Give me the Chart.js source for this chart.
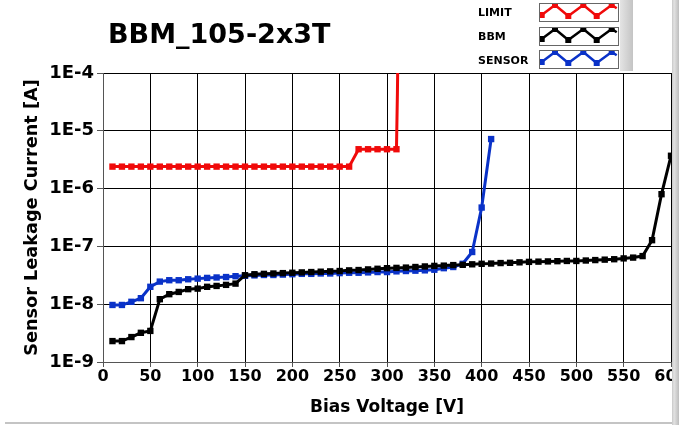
<!DOCTYPE html>
<html>
<head>
<meta charset="utf-8">
<script src="https://cdn.jsdelivr.net/npm/chart.js@4"></script>
<style>
  body { margin: 0; background: #fff; }
</style>
</head>
<body>
<canvas id="myChart" width="679" height="425"></canvas>
<script>
const title = 'BBM_105-2x3T';
const seriesNames = ['LIMIT', 'BBM', 'SENSOR'];
const seriesColors = ['#f00a0a', '#000000', '#0a32c8'];
const yTickExponents = [-9, -8, -7, -6, -5, -4];

// bias voltage [V] / leakage current [A]
const limitV = [10, 20, 30, 40, 50, 60, 70, 80, 90, 100, 110, 120, 130, 140, 150, 160, 170, 180, 190, 200,
  210, 220, 230, 240, 250, 260, 270, 280, 290, 300, 310, 311, 312];
const limitI = [2.4e-6, 2.4e-6, 2.4e-6, 2.4e-6, 2.4e-6, 2.4e-6, 2.4e-6, 2.4e-6, 2.4e-6, 2.4e-6,
  2.4e-6, 2.4e-6, 2.4e-6, 2.4e-6, 2.4e-6, 2.4e-6, 2.4e-6, 2.4e-6, 2.4e-6, 2.4e-6,
  2.4e-6, 2.4e-6, 2.4e-6, 2.4e-6, 2.4e-6, 2.4e-6, 4.8e-6, 4.8e-6, 4.8e-6, 4.8e-6, 4.8e-6, 4.5e-5, 1e-3];

const bbmV = [10, 20, 30, 40, 50, 60, 70, 80, 90, 100, 110, 120, 130, 140, 150, 160, 170, 180, 190, 200,
  210, 220, 230, 240, 250, 260, 270, 280, 290, 300, 310, 320, 330, 340, 350, 360, 370, 380, 390, 400,
  410, 420, 430, 440, 450, 460, 470, 480, 490, 500, 510, 520, 530, 540, 550, 560, 570, 580, 590, 600];
const bbmI = [2.3e-9, 2.3e-9, 2.7e-9, 3.2e-9, 3.45e-9, 1.22e-8, 1.49e-8, 1.63e-8, 1.82e-8, 1.86e-8,
  2.0e-8, 2.07e-8, 2.16e-8, 2.27e-8, 3.17e-8, 3.3e-8, 3.35e-8, 3.4e-8, 3.45e-8, 3.5e-8,
  3.55e-8, 3.6e-8, 3.65e-8, 3.7e-8, 3.75e-8, 3.85e-8, 3.9e-8, 4.0e-8, 4.1e-8, 4.2e-8,
  4.25e-8, 4.3e-8, 4.4e-8, 4.5e-8, 4.6e-8, 4.65e-8, 4.75e-8, 4.8e-8, 4.9e-8, 5.0e-8,
  5.05e-8, 5.15e-8, 5.2e-8, 5.3e-8, 5.4e-8, 5.45e-8, 5.5e-8, 5.55e-8, 5.6e-8, 5.6e-8,
  5.7e-8, 5.8e-8, 5.9e-8, 6.0e-8, 6.2e-8, 6.4e-8, 6.8e-8, 1.28e-7, 8.0e-7, 3.7e-6];

const sensorV = [10, 20, 30, 40, 50, 60, 70, 80, 90, 100, 110, 120, 130, 140, 150, 160, 170, 180, 190, 200,
  210, 220, 230, 240, 250, 260, 270, 280, 290, 300, 310, 320, 330, 340, 350, 360, 370, 380, 390, 400, 410];
const sensorI = [9.7e-9, 9.7e-9, 1.1e-8, 1.27e-8, 2.0e-8, 2.46e-8, 2.6e-8, 2.6e-8, 2.7e-8, 2.77e-8,
  2.85e-8, 2.9e-8, 2.95e-8, 3.05e-8, 3.1e-8, 3.15e-8, 3.2e-8, 3.2e-8, 3.25e-8, 3.3e-8,
  3.35e-8, 3.35e-8, 3.4e-8, 3.4e-8, 3.45e-8, 3.5e-8, 3.5e-8, 3.55e-8, 3.6e-8, 3.6e-8,
  3.7e-8, 3.75e-8, 3.8e-8, 3.85e-8, 3.95e-8, 4.2e-8, 4.4e-8, 5.0e-8, 8.0e-8, 4.7e-7, 7.2e-6];

const toPoints = (xs, ys) => xs.map((x, i) => ({ x: x, y: ys[i] }));

const FONT = "'DejaVu Sans', Verdana, sans-serif";

// title, legend panel and window frame
const decorPlugin = {
  id: 'decor',
  beforeDraw(chart) {
    const ctx = chart.ctx;
    ctx.save();
    ctx.fillStyle = '#fff';
    ctx.fillRect(0, 0, chart.width, chart.height);
    ctx.restore();
  },
  afterDraw(chart) {
    const ctx = chart.ctx;
    ctx.save();

    ctx.fillStyle = '#000';
    ctx.font = 'bold 27px ' + FONT;
    ctx.textBaseline = 'alphabetic';
    ctx.fillText(title, 108, 43);

    // legend
    const boxTops = [3, 27, 50];
    const baselines = [16, 40, 64];
    ctx.fillStyle = '#fff';
    ctx.fillRect(467, 0, 153, 71);
    const sh = ctx.createLinearGradient(620, 0, 633, 0);
    sh.addColorStop(0, '#e4e4e4');
    sh.addColorStop(1, '#c4c4c4');
    ctx.fillStyle = sh;
    ctx.fillRect(620, 0, 13, 71);

    const zx = [2.7, 16, 29.3, 44.3, 57.7, 72.7, 77.7];
    const zy = [12, 2, 13, 2, 13, 2, 5.3];
    seriesNames.forEach((name, k) => {
      ctx.fillStyle = '#000';
      ctx.font = 'bold 11px ' + FONT;
      ctx.fillText(name, 478, baselines[k]);
      const bx = 539, by = boxTops[k];
      ctx.fillStyle = '#fff';
      ctx.fillRect(bx, by, 79, 18);
      ctx.strokeStyle = '#666';
      ctx.lineWidth = 1;
      ctx.strokeRect(bx + 0.5, by + 0.5, 79, 18);
      ctx.save();
      ctx.beginPath();
      ctx.rect(bx + 1, by + 1, 78, 17);
      ctx.clip();
      ctx.strokeStyle = seriesColors[k];
      ctx.fillStyle = seriesColors[k];
      ctx.lineWidth = 2.5;
      ctx.lineJoin = 'round';
      ctx.beginPath();
      zx.forEach((x, i) => {
        if (i === 0) ctx.moveTo(bx + x, by + zy[i]);
        else ctx.lineTo(bx + x, by + zy[i]);
      });
      ctx.stroke();
      for (let i = 0; i < zx.length - 1; i++) {
        ctx.fillRect(bx + zx[i] - 3, by + zy[i] - 3, 6, 6);
      }
      ctx.restore();
    });

    // window edge on the right and bottom
    const g = ctx.createLinearGradient(672, 0, 679, 0);
    g.addColorStop(0, '#c8c8c8');
    g.addColorStop(0.3, '#e2e2e2');
    g.addColorStop(1, '#bdbdbd');
    ctx.fillStyle = g;
    ctx.fillRect(672, 0, 7, chart.height);
    ctx.fillStyle = '#c4c4c4';
    ctx.fillRect(5, 422, 667, 2);

    ctx.restore();
  }
};

const ctx = document.getElementById('myChart');

new Chart(ctx, {
  type: 'line',
  data: {
    datasets: [
      {
        label: seriesNames[0],
        data: toPoints(limitV, limitI),
        borderColor: seriesColors[0],
        backgroundColor: seriesColors[0],
        pointRadius: limitV.map((v, i) => i >= limitV.length - 2 ? 0 : 4.5)
      },
      {
        label: seriesNames[1],
        data: toPoints(bbmV, bbmI),
        borderColor: seriesColors[1],
        backgroundColor: seriesColors[1]
      },
      {
        label: seriesNames[2],
        data: toPoints(sensorV, sensorI),
        borderColor: seriesColors[2],
        backgroundColor: seriesColors[2]
      }
    ]
  },
  options: {
    responsive: false,
    animation: false,
    layout: { padding: { top: 73, right: 8, left: 0, bottom: 0 } },
    elements: {
      line: { borderWidth: 3, tension: 0 },
      point: { pointStyle: 'rect', radius: 4.5, borderWidth: 0, hoverRadius: 4.5 }
    },
    plugins: {
      legend: { display: false },
      tooltip: { enabled: false }
    },
    scales: {
      x: {
        type: 'linear',
        min: 0,
        max: 600,
        ticks: {
          stepSize: 50,
          color: '#000',
          padding: 0,
          maxRotation: 0,
          font: { family: FONT, size: 16, weight: 'bold' }
        },
        grid: { color: '#000', lineWidth: 1, tickLength: 5, tickColor: '#555' },
        border: { color: '#555', width: 1 },
        title: {
          display: true,
          text: 'Bias Voltage [V]',
          color: '#000',
          font: { family: FONT, size: 17, weight: 'bold' },
          padding: { top: 0, bottom: 7 }
        },
        afterFit(scale) {
          scale.height = 63;
          scale.paddingLeft = 0;
          scale.paddingRight = 0;
        }
      },
      y: {
        type: 'logarithmic',
        min: 1e-9,
        max: 1e-4,
        afterBuildTicks(scale) {
          scale.ticks = yTickExponents.map(e => ({ value: Math.pow(10, e) }));
        },
        ticks: {
          color: '#000',
          padding: 3,
          font: { family: FONT, size: 18, weight: 'bold' },
          callback: value => '1E' + Math.round(Math.log10(value))
        },
        grid: { color: '#000', lineWidth: 1, tickLength: 6, tickColor: '#555' },
        border: { color: '#555', width: 1 },
        title: {
          display: true,
          text: 'Sensor Leakage Current [A]',
          color: '#000',
          font: { family: FONT, size: 17.7, weight: 'bold' },
          padding: { top: 22, bottom: 0 }
        },
        afterFit(scale) {
          scale.width = 103;
          scale.paddingTop = 0;
          scale.paddingBottom = 0;
        }
      }
    }
  },
  plugins: [decorPlugin]
});
</script>
</body>
</html>
